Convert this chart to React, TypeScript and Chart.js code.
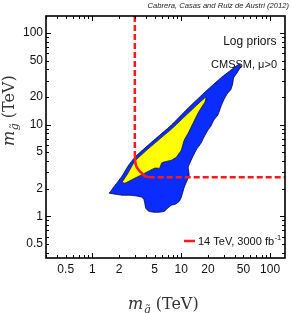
import React, { useEffect, useRef } from 'react';
import { Chart, registerables } from 'chart.js';

Chart.register(...registerables);

// ---------- data ----------
const X_TICKS = [0.5, 1, 2, 5, 10, 20, 50, 100];
const Y_TICKS = [0.5, 1, 2, 5, 10, 20, 50, 100];
const X_MIN = 0.324;
const X_MAX = 147;
const Y_MIN = 0.35;
const Y_MAX = 153;

// 95% credible region (blue), squark mass (TeV)
const BLUE_X = [1.545, 1.801, 2.154, 2.512, 3.005, 4.642, 7.743, 11.66, 18.01, 27.83, 38.81, 45.25, 46.42, 42.99, 38.81, 37.83, 35.94, 33.3, 30.05, 27.83, 25.77, 23.26, 21.54, 19.95, 18.01, 16.68, 14.68, 12.92, 11.96, 12.27, 11.66, 10.8, 10.0, 9.502, 8.577, 7.743, 6.988, 6.474, 5.695, 4.885, 4.299, 3.981, 3.881, 3.783, 3.594, 3.245, 2.644, 2.154, 1.801];
// gluino mass (TeV)
const BLUE_Y = [1.784, 2.182, 2.736, 3.519, 4.413, 6.437, 9.875, 14.77, 22.1, 32.23, 41.45, 45.84, 42.5, 37.48, 32.23, 27.71, 23.82, 22.1, 18.52, 15.54, 12.7, 11.2, 9.63, 8.707, 7.302, 6.278, 5.264, 4.093, 3.431, 2.806, 2.474, 2.074, 1.613, 1.458, 1.352, 1.319, 1.223, 1.134, 1.106, 1.106, 1.134, 1.223, 1.387, 1.534, 1.613, 1.654, 1.696, 1.696, 1.74];

// 68% credible region (yellow)
const YELLOW_X = [2.154, 2.512, 3.005, 4.084, 5.695, 7.743, 11.37, 15.85, 18.96, 18.48, 17.56, 15.45, 13.59, 11.96, 10.8, 10.0, 9.502, 8.799, 7.743, 6.31, 5.995, 5.695, 5.012, 3.881, 3.005, 2.326];
const YELLOW_Y = [2.353, 2.951, 3.992, 5.264, 6.942, 8.929, 12.7, 17.18, 19.98, 17.62, 16.34, 13.36, 10.38, 8.074, 6.769, 5.264, 4.881, 4.413, 4.093, 3.893, 3.795, 3.346, 3.346, 2.951, 2.602, 2.295];

// LHC 14 TeV, 3000 fb^-1 reach
const REACH_V_X = [3.0, 3.0];
const REACH_V_Y = [153, 4.64];
const REACH_C_X = [3.0, 3.083, 3.33, 3.594, 3.881, 4.299];
const REACH_C_Y = [4.64, 3.61, 3.18, 2.951, 2.736, 2.668];
const REACH_H_X = [4.299, 147];
const REACH_H_Y = [2.668, 2.668];

const TITLE = 'Cabrera, Casas and Ruiz de Austri (2012)';
const NOTE_1 = 'Log priors';
const NOTE_2 = 'CMSSM, \u03bc>0';
const LEGEND_TEXT = '14 TeV, 3000 fb';
const LEGEND_SUP = '-1';
const X_SUB = 'q\u0303';
const Y_SUB = 'g\u0303';
const UNIT = '(TeV)';

// ---------- styles ----------
const SANS = '"Liberation Sans", Arial, Helvetica, sans-serif';
const SERIF = '"DejaVu Serif", serif';
const RED = '#ff1a1a';
const BLUE = '#0a2cff';
const YELLOW = '#ffff00';

const pts = (xs: number[], ys: number[]) => xs.map((x, i) => ({ x, y: ys[i] }));
const closed = (xs: number[], ys: number[]) => {
  const p = pts(xs, ys);
  p.push({ ...p[0] });
  return p;
};

const logTicks = (min: number, max: number) => {
  const out: { v: number; major: boolean }[] = [];
  for (let e = Math.floor(Math.log10(min)); e <= Math.ceil(Math.log10(max)); e++) {
    for (let m = 1; m <= 9; m++) {
      const v = m * Math.pow(10, e);
      if (v >= min && v <= max) out.push({ v, major: m === 1 });
    }
  }
  return out;
};

// draws "m_sub (TeV)" starting at the origin, baseline at y = 0
function drawAxisLabel(ctx: CanvasRenderingContext2D, sub: string) {
  ctx.textAlign = 'left';
  ctx.font = `italic 16px ${SERIF}`;
  ctx.fillText('m', 0, 0);
  let x = ctx.measureText('m').width + 0.5;
  ctx.font = `italic 11px ${SERIF}`;
  ctx.fillText(sub, x, 4);
  x += ctx.measureText('q').width + 5;
  ctx.font = `16px ${SERIF}`;
  ctx.fillText(UNIT, x, 0);
}

const decorPlugin = {
  id: 'decor',
  beforeDatasetsDraw(chart: any) {
    const { ctx, chartArea: a } = chart;
    ctx.save();
    ctx.fillStyle = '#111';
    ctx.textAlign = 'right';
    ctx.textBaseline = 'alphabetic';
    ctx.font = `12px ${SANS}`;
    ctx.fillText(NOTE_1, a.right - 8.5, a.top + 29);
    ctx.font = `11px ${SANS}`;
    ctx.fillText(NOTE_2, a.right - 8, a.top + 52);
    ctx.restore();
  },
  afterDraw(chart: any) {
    const { ctx, chartArea: a, scales } = chart;
    const xs = scales.x;
    const ys = scales.y;
    ctx.save();
    // inward tick marks on all four sides
    ctx.strokeStyle = '#000';
    ctx.lineWidth = 1;
    ctx.beginPath();
    for (const t of logTicks(xs.min, xs.max)) {
      const px = Math.round(xs.getPixelForValue(t.v)) + 0.5;
      const len = t.major ? 5 : 3;
      ctx.moveTo(px, a.bottom);
      ctx.lineTo(px, a.bottom - len);
      ctx.moveTo(px, a.top);
      ctx.lineTo(px, a.top + len);
    }
    for (const t of logTicks(ys.min, ys.max)) {
      const py = Math.round(ys.getPixelForValue(t.v)) + 0.5;
      const len = t.major ? 5 : 3;
      ctx.moveTo(a.left, py);
      ctx.lineTo(a.left + len, py);
      ctx.moveTo(a.right, py);
      ctx.lineTo(a.right - len, py);
    }
    ctx.stroke();
    // frame
    ctx.lineWidth = 1.6;
    ctx.strokeRect(a.left, a.top, a.right - a.left, a.bottom - a.top);

    // legend
    const ly = a.bottom - 17;
    ctx.strokeStyle = RED;
    ctx.lineWidth = 2.5;
    ctx.beginPath();
    ctx.moveTo(a.right - 101, ly);
    ctx.lineTo(a.right - 90, ly);
    ctx.stroke();
    ctx.fillStyle = '#111';
    ctx.textBaseline = 'alphabetic';
    ctx.textAlign = 'left';
    ctx.font = `11px ${SANS}`;
    ctx.fillText(LEGEND_TEXT, a.right - 87, ly + 4);
    const lw = ctx.measureText(LEGEND_TEXT).width;
    ctx.font = `7.5px ${SANS}`;
    ctx.fillText(LEGEND_SUP, a.right - 87 + lw + 0.5, ly - 1);

    // title (top right, italic)
    ctx.font = `italic 7.6px ${SANS}`;
    ctx.textAlign = 'right';
    ctx.fillStyle = '#222';
    ctx.fillText(TITLE, 289, 7.5);

    // axis titles
    ctx.fillStyle = '#333';
    ctx.save();
    ctx.translate(128, 309);
    drawAxisLabel(ctx, X_SUB);
    ctx.restore();
    ctx.save();
    ctx.translate(14, 146);
    ctx.rotate(-Math.PI / 2);
    drawAxisLabel(ctx, Y_SUB);
    ctx.restore();

    ctx.restore();
  },
};

export default function App() {
  const ref = useRef<HTMLCanvasElement | null>(null);

  useEffect(() => {
    if (!ref.current) return;
    const tickFont = { size: 12, family: SANS };
    const chart = new Chart(ref.current, {
      type: 'line',
      data: {
        datasets: [
          {
            label: 'reach-v',
            data: pts(REACH_V_X, REACH_V_Y),
            borderColor: RED,
            borderWidth: 2.5,
            borderDash: [6, 3],
            pointRadius: 0,
            fill: false,
          },
          {
            label: 'reach-c',
            data: pts(REACH_C_X, REACH_C_Y),
            borderColor: RED,
            borderWidth: 2.5,
            pointRadius: 0,
            tension: 0.4,
            fill: false,
          },
          {
            label: 'reach-h',
            data: pts(REACH_H_X, REACH_H_Y),
            borderColor: RED,
            borderWidth: 2.5,
            borderDash: [6, 3],
            pointRadius: 0,
            fill: false,
          },
          {
            label: '68%',
            data: closed(YELLOW_X, YELLOW_Y),
            borderColor: '#1a1a1a',
            borderWidth: 0.8,
            backgroundColor: YELLOW,
            fill: 'shape',
            pointRadius: 0,
            tension: 0.15,
          },
          {
            label: '95%',
            data: closed(BLUE_X, BLUE_Y),
            borderColor: '#00003a',
            borderWidth: 0.8,
            backgroundColor: BLUE,
            fill: 'shape',
            pointRadius: 0,
            tension: 0.15,
          },
        ],
      },
      options: {
        animation: false,
        responsive: false,
        events: [],
        layout: { padding: { top: 16, right: 6, left: 0, bottom: 0 } },
        plugins: { legend: { display: false }, tooltip: { enabled: false } },
        scales: {
          x: {
            type: 'logarithmic',
            min: X_MIN,
            max: X_MAX,
            grid: { display: false, drawTicks: false },
            border: { display: false },
            ticks: {
              font: tickFont,
              color: '#111',
              padding: 4,
              autoSkip: false,
              maxRotation: 0,
              major: { enabled: false },
              callback: (v: any) => String(v),
            },
            afterBuildTicks: (s: any) => {
              s.ticks = X_TICKS.map((value) => ({ value }));
            },
            afterFit: (s: any) => {
              s.height = 55;
            },
          },
          y: {
            type: 'logarithmic',
            min: Y_MIN,
            max: Y_MAX,
            grid: { display: false, drawTicks: false },
            border: { display: false },
            ticks: {
              font: tickFont,
              color: '#111',
              padding: 3,
              autoSkip: false,
              major: { enabled: false },
              callback: (v: any) => String(v),
            },
            afterBuildTicks: (s: any) => {
              s.ticks = Y_TICKS.map((value) => ({ value }));
            },
            afterFit: (s: any) => {
              s.width = 46;
            },
          },
        },
      } as any,
      plugins: [decorPlugin],
    });
    return () => chart.destroy();
  }, []);

  return (
    <div style={{ position: 'absolute', left: 0, top: 0, width: 291, height: 313, background: '#fff' }}>
      <canvas ref={ref} width={291} height={313} style={{ display: 'block' }} />
    </div>
  );
}
